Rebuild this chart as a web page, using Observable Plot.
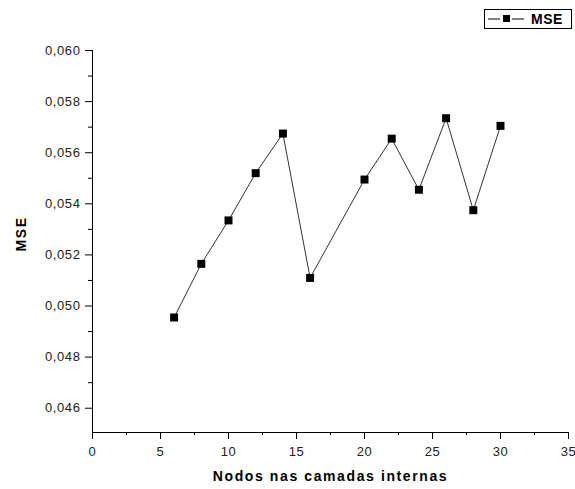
<!DOCTYPE html>
<html>
<head>
<meta charset="utf-8">
<script src="https://cdn.jsdelivr.net/npm/d3@7"></script>
<script src="https://cdn.jsdelivr.net/npm/@observablehq/plot@0.6"></script>
<style>
  html, body { margin: 0; padding: 0; background: #fff; }
  #wrap { position: relative; width: 575px; height: 489px; }
  #chart svg text { letter-spacing: 0.6px; }
  #legend {
    position: absolute; left: 484px; top: 9px; width: 88px; height: 20px;
    border: 1px solid #000; background: #fff; box-sizing: border-box;
    font-family: "Liberation Sans", Arial, sans-serif; font-weight: bold; font-size: 14px;
    display: flex; align-items: center;
  }
  #legend svg { display: block; }
  #legend span { margin-left: 4px; letter-spacing: 0.5px; }
</style>
</head>
<body>
<div id="wrap">
  <div id="chart"></div>
  <div id="legend"></div>
</div>
<script>
// Mean squared error against the number of nodes in the hidden layers
const nodes = [6, 8, 10, 12, 14, 16, 20, 22, 24, 26, 28, 30];
const mse = [0.04955, 0.05165, 0.05335, 0.0552, 0.05675, 0.0511, 0.05495, 0.05655, 0.05455, 0.05735, 0.05375, 0.05705];

const xTicks = [0, 5, 10, 15, 20, 25, 30, 35];
const xMinorTicks = [2.5, 7.5, 12.5, 17.5, 22.5, 27.5, 32.5];
const yTicks = [0.046, 0.048, 0.050, 0.052, 0.054, 0.056, 0.058, 0.060];
const yMinorTicks = [0.047, 0.049, 0.051, 0.053, 0.055, 0.057, 0.059];

const xTitle = "Nodos nas camadas internas";
const yTitle = "MSE";
const seriesName = "MSE";

const rows = nodes.map((n, i) => ({nodes: n, mse: mse[i]}));
const commaFormat = d => d.toFixed(3).replace(".", ",");
const blank = () => "";

const chart = Plot.plot({
  width: 575,
  height: 489,
  marginLeft: 92,
  marginRight: 7,
  marginTop: 50,
  marginBottom: 57,
  style: {fontFamily: "'Liberation Sans', Arial, sans-serif", fontSize: "13px", color: "#222", background: "#fff"},
  x: {domain: [0, 35]},
  y: {domain: [0.04505, 0.060]},
  marks: [
    Plot.ruleX([0], {stroke: "#000"}),
    Plot.ruleY([0.04505], {stroke: "#000"}),
    Plot.axisY(yMinorTicks, {tickSize: 4, tickFormat: blank, label: null, stroke: "#000"}),
    Plot.axisY(yTicks, {tickSize: 7, tickPadding: 5, tickFormat: commaFormat, label: null, stroke: "#000"}),
    Plot.axisX(xMinorTicks, {tickSize: 3, tickFormat: blank, label: null, stroke: "#000"}),
    Plot.axisX(xTicks, {tickSize: 7, tickPadding: 7, label: null, stroke: "#000"}),
    Plot.text([xTitle], {frameAnchor: "bottom", dy: 48, fontWeight: "bold", fontSize: 14, fill: "#000", className: "axis-title"}),
    Plot.text([yTitle], {frameAnchor: "left", dx: -71, dy: 10, rotate: -90, fontWeight: "bold", fontSize: 14, fill: "#000", className: "axis-title"}),
    Plot.line(rows, {x: "nodes", y: "mse", stroke: "#333", strokeWidth: 1}),
    Plot.dot(rows, {x: "nodes", y: "mse", symbol: "square", r: 4.5, fill: "#000", stroke: null})
  ]
});
document.getElementById("chart").append(chart);
d3.select(chart).selectAll("text").filter(function () { return this.textContent === xTitle || this.textContent === yTitle; })
  .style("letter-spacing", "1.6px");

// Legend: line with square marker, then the series name
const legend = d3.select("#legend");
const sym = legend.append("svg").attr("width", 42).attr("height", 18);
sym.append("line").attr("x1", 3).attr("x2", 15).attr("y1", 9).attr("y2", 9).attr("stroke", "#000");
sym.append("line").attr("x1", 27).attr("x2", 39).attr("y1", 9).attr("y2", 9).attr("stroke", "#000");
sym.append("rect").attr("x", 18).attr("y", 5).attr("width", 7).attr("height", 7).attr("fill", "#000");
legend.append("span").text(seriesName);
</script>
</body>
</html>
